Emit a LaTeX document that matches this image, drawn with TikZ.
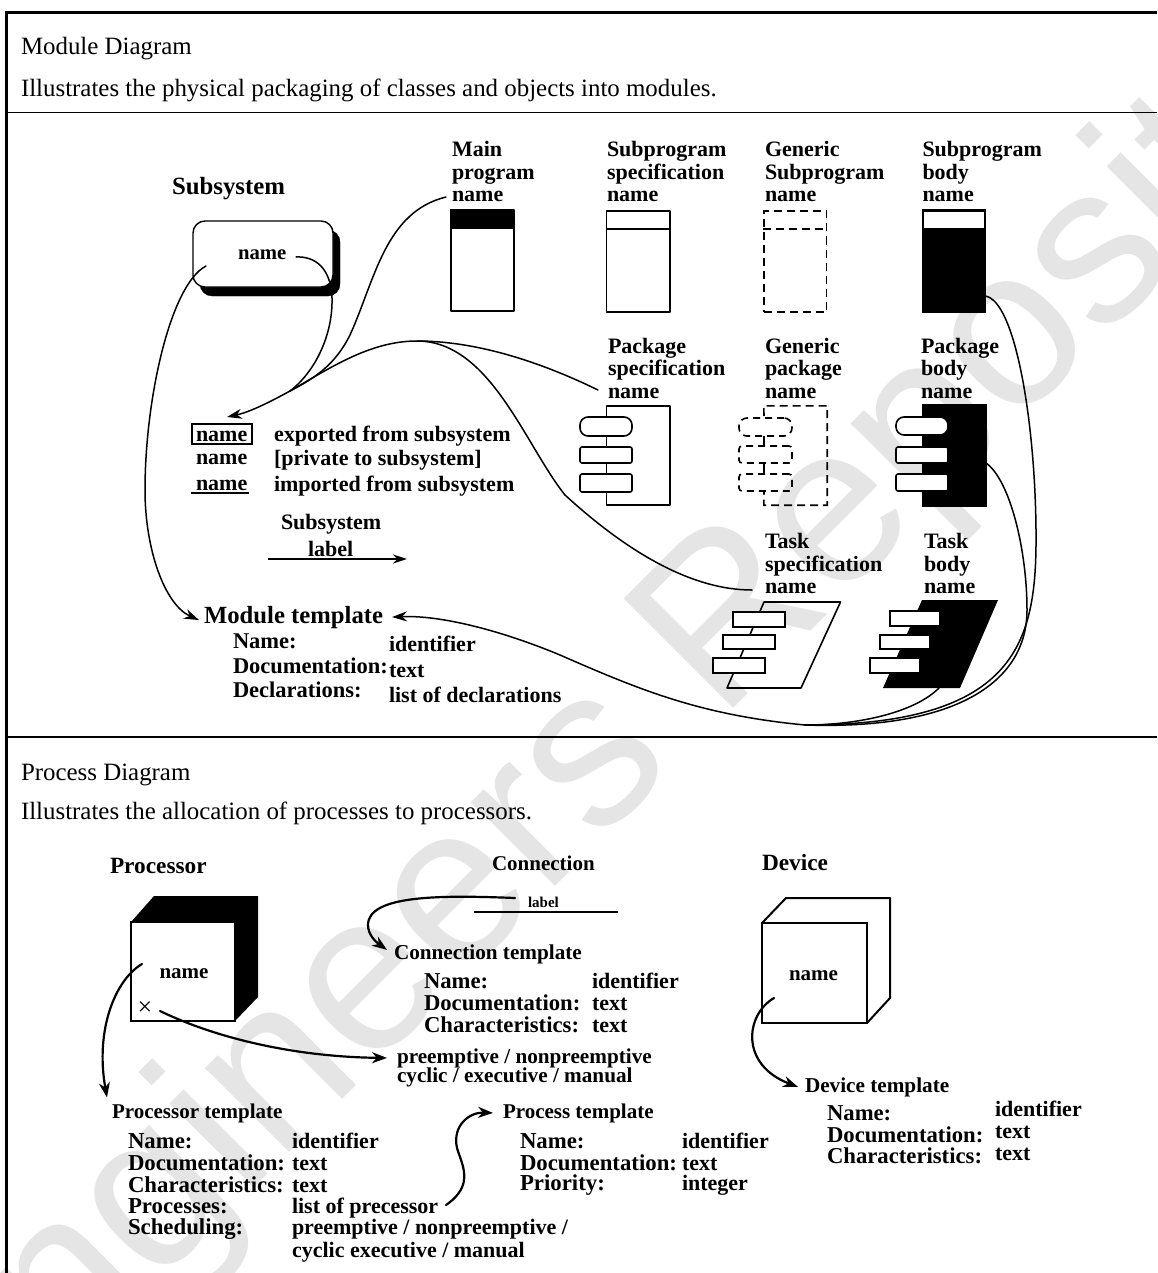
\documentclass[tikz,border=0pt]{standalone}
\usepackage{fontspec}
\setmainfont{Liberation Serif}
\setsansfont{Liberation Sans}
\usetikzlibrary{arrows.meta}
\newcommand{\lbl}[5]{\node[lbl,font=\bfseries\fontsize{#4}{#4}\selectfont] (#1) at (#2,#3) {#5};}
\newcommand{\plain}[4]{\node[lbl,font=\fontsize{24.9}{24.9}\selectfont] (#1) at (#2,#3) {#4};}
\tikzset{
  lbl/.style={anchor=base west,inner sep=0pt,outer sep=0pt},
  solidbox/.style={draw=black,line width=1.6pt,inner sep=0pt,rectangle,line join=round},
  blackbox/.style={draw=black,fill=black,line width=1pt,inner sep=0pt,rectangle},
  dashbox/.style={draw=black,line width=1.6pt,inner sep=0pt,rectangle,dash pattern=on 8pt off 5pt},
  tab/.style={draw=black,fill=white,line width=1.6pt,inner sep=0pt,rectangle},
  pill/.style={tab,rounded corners=8pt},
  dashtab/.style={draw=black,line width=1.6pt,inner sep=0pt,rectangle,rounded corners=3pt,dash pattern=on 7pt off 5pt},
  conn/.style={draw=black,line width=1.5pt,line cap=round},
  tip/.style={-{Stealth[length=15pt,width=10pt]}},
  heavy/.style={draw=black,line width=2.2pt,line cap=round,-{Stealth[length=15pt,width=11pt]}},
}
\begin{document}
\begin{tikzpicture}[x=1pt,y=-1pt]
\useasboundingbox (0,0) rectangle (1157,1273);
% watermark
\node[inner sep=0pt,rotate=45,text=black!10,font=\sffamily\fontsize{225}{225}\selectfont] (wm) at (680,680) {Engineers Repository};
% frame
\draw[line width=3pt,line cap=butt] (6.7,1273) -- (6.7,12.5) -- (1157,12.5);
\draw[line width=1.8pt] (6.7,112.5) -- (1157,112.5);
\draw[line width=2.2pt] (6.7,737) -- (1157,737);
\plain{t1}{21}{55}{Module Diagram}
\plain{t2}{21}{97}{Illustrates the physical packaging of classes and objects into modules.}
\plain{t3}{21}{780}{Process Diagram}
\plain{t4}{21}{819}{Illustrates the allocation of processes to processors.}
% subsystem
\lbl{subttl}{172}{195}{24.8}{Subsystem}
\node[draw=black,fill=black,rounded corners=12pt,minimum width=140pt,minimum height=66pt,inner sep=0pt] (subshadow) at (270,263) {};
\node[draw=black,fill=white,line width=1.4pt,rounded corners=12pt,minimum width=140pt,minimum height=66pt,inner sep=0pt] (subbox) at (263,254) {};
\lbl{subname}{238}{259}{20.7}{name}
% module symbols row 1
\lbl{m1}{452}{157}{22}{Main}\lbl{m2}{452}{180}{22}{program}\lbl{m3}{452}{202}{22}{name}
\node[solidbox,minimum width=63pt,minimum height=101pt] (mainbox) at (482.5,260.5) {};
\fill[black] (mainbox.north west) rectangle (514,229);
\lbl{s1}{607}{157}{22}{Subprogram}\lbl{s2}{607}{180}{22}{specification}\lbl{s3}{607}{202}{22}{name}
\node[solidbox,minimum width=63.5pt,minimum height=101pt] (specbox) at (638.3,261.5) {};
\draw[line width=1.6pt] (specbox.west |- 0,229) -- (specbox.east |- 0,229);
\lbl{g1}{765}{157}{22}{Generic}\lbl{g2}{765}{180}{22}{Subprogram}\lbl{g3}{765}{202}{22}{name}
\node[dashbox,minimum width=62.5pt,minimum height=101pt] (gensub) at (795.3,261.5) {};
\draw[line width=1.6pt,dash pattern=on 8pt off 5pt] (gensub.west |- 0,229) -- (gensub.east |- 0,229);
\lbl{b1}{922.5}{157}{22}{Subprogram}\lbl{b2}{922.5}{180}{22}{body}\lbl{b3}{922.5}{202}{22}{name}
\node[blackbox,minimum width=63pt,minimum height=102pt] (subbody) at (953.5,261) {};
\fill[white] (924,212) rectangle (984,228);
% row 2
\lbl{p1}{608}{353}{22}{Package}\lbl{p2}{608}{375}{22}{specification}\lbl{p3}{608}{398}{22}{name}
\node[solidbox,minimum width=63.5pt,minimum height=99pt] (pkgspec) at (638.3,455.5) {};
\node[pill,minimum width=52pt,minimum height=19pt] (ps1) at (606,426.5) {};
\node[tab,rounded corners=2pt,minimum width=52pt,minimum height=16pt] (ps2) at (606,455) {};
\node[tab,rounded corners=2pt,minimum width=52pt,minimum height=18pt] (ps3) at (606,483) {};
\lbl{q1}{765}{353}{22}{Generic}\lbl{q2}{765}{375}{22}{package}\lbl{q3}{765}{398}{22}{name}
\node[inner sep=0pt,minimum width=63pt,minimum height=99pt] (genpkg) at (795.5,455.5) {};
\draw[line width=1.6pt,dash pattern=on 8pt off 5pt] (764,416) -- (genpkg.north west) -- (genpkg.north east) -- (genpkg.south east) -- (genpkg.south west) -- (764,491);
\draw[line width=1.6pt] (764,436) -- (764,446) (764,463) -- (764,474);
\node[dashtab,rounded corners=8pt,minimum width=53pt,minimum height=18pt] (gp1) at (765.5,427) {};
\node[dashtab,minimum width=53pt,minimum height=17pt] (gp2) at (765.5,454.5) {};
\node[dashtab,minimum width=53pt,minimum height=17pt] (gp3) at (765.5,482.5) {};
\lbl{r1}{921}{353}{22}{Package}\lbl{r2}{921}{375}{22}{body}\lbl{r3}{921}{398}{22}{name}
\node[blackbox,minimum width=64pt,minimum height=102pt] (pkgbody) at (954,455) {};
\node[pill,minimum width=52pt,minimum height=18pt] (pb1) at (922,426) {};
\node[tab,rounded corners=2pt,minimum width=52pt,minimum height=16pt] (pb2) at (922,455) {};
\node[tab,rounded corners=2pt,minimum width=52pt,minimum height=17pt] (pb3) at (922,482.5) {};
% legend
\node[draw=black,line width=1.4pt,minimum width=60pt,minimum height=20pt,inner sep=0pt] (legbox) at (222,434) {};
\lbl{l1}{196}{441}{22}{name}\lbl{l2}{196}{464}{22}{name}\lbl{l3}{196}{490}{22}{name}
\draw[line width=1.4pt] ([xshift=-5pt,yshift=-3pt]l3.base west) -- ([xshift=2pt,yshift=-3pt]l3.base east);
\lbl{e1}{274}{441}{22}{exported from subsystem}
\lbl{e2}{274}{465}{22}{[private to subsystem]}
\lbl{e3}{274}{491}{22}{imported from subsystem}
\lbl{sl1}{281}{529}{22}{Subsystem}\lbl{sl2}{308}{556}{22}{label}
\coordinate (slA) at (268,559); \coordinate (slB) at (407,559);
\draw[line width=2pt,-{Stealth[length=14pt,width=9pt]}] (slA) -- (slB);
% module template
\lbl{modtpl}{204}{623}{24.7}{Module template}
\lbl{mt1}{233}{648}{22.5}{Name:}\lbl{mt2}{233}{673}{22.5}{Documentation:}\lbl{mt3}{233}{697}{22.5}{Declarations:}
\lbl{mv1}{389}{651}{22}{identifier}\lbl{mv2}{389}{677}{22}{text}\lbl{mv3}{389}{702}{22}{list of declarations}
% tasks
\lbl{ts1}{765}{548}{22}{Task}\lbl{ts2}{765}{571}{22}{specification}\lbl{ts3}{765}{593}{22}{name}
\draw[line width=1.6pt,line join=round] (764,602) coordinate (tsA) -- (840.5,602) -- (801,688) -- (727,688) -- cycle;
\node[tab,minimum width=52pt,minimum height=15pt] (ta1) at (759,619.5) {};
\node[tab,minimum width=52pt,minimum height=14pt] (ta2) at (749,642) {};
\node[tab,minimum width=52pt,minimum height=15pt] (ta3) at (739,665.5) {};
\lbl{tb1}{924}{548}{22}{Task}\lbl{tb2}{924}{571}{22}{body}\lbl{tb3}{924}{593}{22}{name}
\fill[black] (922,600) coordinate (tbA) -- (998,600) -- (960,688) coordinate (tbBr) -- (883,688) coordinate (tbBl) -- cycle;
\node[tab,minimum width=50pt,minimum height=15pt] (tc1) at (915,618.5) {};
\node[tab,minimum width=50pt,minimum height=14pt] (tc2) at (905,642) {};
\node[tab,minimum width=50pt,minimum height=15pt] (tc3) at (895,665.5) {};
% module connectors
\coordinate (tipExp) at (227,417);
\coordinate (nameOut) at (296,257);
\coordinate (subIn) at (206,266);
\coordinate (mainOut) at (446,197);
\coordinate (pkgOut) at (598,390);
\coordinate (taskOut) at (752,590);
\coordinate (bodyOut) at (985,296);
\coordinate (pbOut) at (986,463);
\coordinate (tbOut) at (939,688);
\coordinate (joinM) at (805,725);
\coordinate (joinE) at (290,391);
\draw[conn] (nameOut) .. controls (315,256) and (331,268) .. (332,298) .. controls (333,335) and (315,372) .. (joinE);
\draw[conn] (mainOut) .. controls (385,212) and (375,280) .. (350,335) .. controls (335,365) and (315,378) .. (joinE);
\draw[conn] (pkgOut) .. controls (520,352) and (460,341) .. (417,341) .. controls (370,341) and (330,368) .. (joinE);
\draw[conn] (taskOut) .. controls (690,590) and (625,550) .. (565,495) .. controls (525,445) and (490,341) .. (417,341);
\draw[conn,tip] (joinE) .. controls (270,402) and (250,412) .. (tipExp);
\draw[conn,tip] (subIn) .. controls (170,285) and (145,400) .. (145,490) .. controls (145,550) and (165,605) .. ([xshift=-5pt,yshift=-3pt]modtpl.west);
\draw[conn,tip] (joinM) .. controls (700,715) and (640,690) .. (560,655) .. controls (500,630) and (440,615) .. ([xshift=9pt]modtpl.east);
\draw[conn] (tbOut) .. controls (915,712) and (860,725) .. (joinM);
\draw[conn] (bodyOut) .. controls (1015,300) and (1035,420) .. (1036,530) .. controls (1037,640) and (1020,725) .. (joinM);
\draw[conn] (pbOut) .. controls (1010,480) and (1027,550) .. (1027,610) .. controls (1027,680) and (960,730) .. (joinM);
% processor
\lbl{prc}{110}{873}{23.3}{Processor}
\fill[black] (131,922) -- (154,896) -- (258,896) -- (258,997) -- (235,1021) -- cycle;
\node[draw=black,fill=white,line width=1.8pt,minimum width=104pt,minimum height=99pt,inner sep=0pt] (cpu) at (183,971.5) {};
\lbl{cpuname}{159.5}{978}{21}{name}
\node[inner sep=0pt,font=\fontsize{26}{26}\selectfont] (cpux) at (145,1009) {×};
\coordinate (cpuOut) at (142,964);
\coordinate (xOut) at (160,1011);
\lbl{ptpl}{112}{1118}{21}{Processor template}
\lbl{pa1}{128}{1148}{22.8}{Name:}\lbl{pa2}{128}{1170}{22.8}{Documentation:}\lbl{pa3}{128}{1192}{22.8}{Characteristics:}\lbl{pa4}{128}{1213}{22.8}{Processes:}\lbl{pa5}{128}{1234}{22.8}{Scheduling:}
\lbl{pv1}{292}{1148}{22}{identifier}\lbl{pv2}{292}{1170}{22}{text}\lbl{pv3}{292}{1192}{22}{text}\lbl{pv4}{292}{1213}{22}{list of precessor}\lbl{pv5}{292}{1234}{22}{preemptive / nonpreemptive /}\lbl{pv6}{292}{1257}{22}{cyclic executive / manual}
% connection
\lbl{con}{492}{870}{21}{Connection}
\lbl{conlab}{528}{907}{15}{label}
\coordinate (lnA) at (474,912); \coordinate (lnB) at (618,912);
\draw[line width=2pt] (lnA) -- (lnB);
\coordinate (conOut) at (515,898);
\lbl{ctpl}{394}{959}{21.2}{Connection template}
\lbl{ca1}{424}{988}{22.7}{Name:}\lbl{ca2}{424}{1010}{22.7}{Documentation:}\lbl{ca3}{424}{1032}{22.7}{Characteristics:}
\lbl{cv1}{592}{988}{22}{identifier}\lbl{cv2}{592}{1010}{22}{text}\lbl{cv3}{592}{1032}{22}{text}
\lbl{pe1}{397}{1063}{21.2}{preemptive / nonpreemptive}
\lbl{pe2}{397}{1082}{21.2}{cyclic / executive / manual}
\draw[heavy] (conOut) .. controls (440,895) and (368,895) .. (368,925) .. controls (368,935) and (376,942) .. ([xshift=-7pt,yshift=4pt]ctpl.west);
\draw[heavy] (xOut) .. controls (220,1040) and (300,1057) .. ([xshift=-10pt]pe1.west);
\draw[heavy] (cpuOut) .. controls (115,980) and (95,1030) .. ([xshift=-5pt,yshift=6pt]ptpl.north west);
% process template
\lbl{ptpl2}{503}{1118}{21}{Process template}
\lbl{pr1}{520}{1148}{22.8}{Name:}\lbl{pr2}{520}{1170}{22.8}{Documentation:}\lbl{pr3}{520}{1190}{22.8}{Priority:}
\lbl{prv1}{682}{1148}{22}{identifier}\lbl{prv2}{682}{1170}{22}{text}\lbl{prv3}{682}{1190}{22}{integer}
\coordinate (prcOut) at (446,1205);
\draw[heavy] (prcOut) .. controls (475,1185) and (462,1165) .. (457,1148) .. controls (452,1125) and (470,1112) .. ([xshift=-10pt]ptpl2.west);
% device
\lbl{dev}{762}{870}{23.3}{Device}
\draw[line width=2pt,line join=round] (762,923) -- (786,898) -- (890,898) -- (890,998) -- (867,1023);
\node[draw=black,line width=2pt,minimum width=105pt,minimum height=100pt,inner sep=0pt] (devbox) at (814.5,973) {};
\lbl{devname}{789}{980}{21}{name}
\coordinate (devOut) at (774,998);
\lbl{dtpl}{805}{1092}{21.2}{Device template}
\lbl{da1}{827}{1120}{22.7}{Name:}\lbl{da2}{827}{1142}{22.7}{Documentation:}\lbl{da3}{827}{1163}{22.7}{Characteristics:}
\lbl{dv1}{995}{1116}{22}{identifier}\lbl{dv2}{995}{1138}{22}{text}\lbl{dv3}{995}{1160}{22}{text}
\draw[heavy] (devOut) .. controls (745,1015) and (740,1065) .. ([xshift=-7pt]dtpl.west);
\end{tikzpicture}
\end{document}
